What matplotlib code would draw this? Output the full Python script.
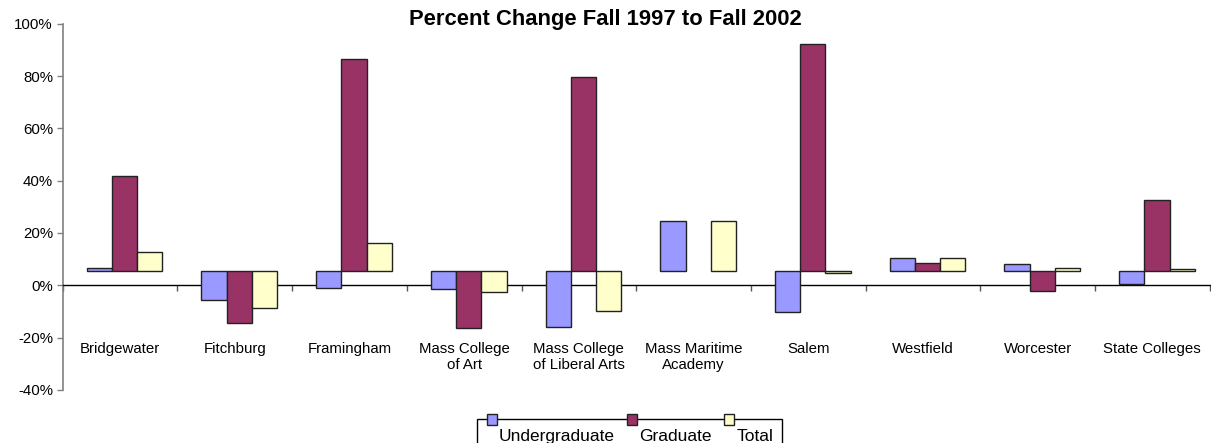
import numpy as np
import matplotlib
matplotlib.use("Agg")
import matplotlib.pyplot as plt
from matplotlib.patches import Rectangle
from matplotlib.ticker import FuncFormatter

plt.rcParams['font.family'] = ['Liberation Sans', 'DejaVu Sans']

# values (percent); bars start at a raised baseline
categories = ['Bridgewater', 'Fitchburg', 'Framingham', 'Mass College\nof Art',
              'Mass College\nof Liberal Arts', 'Mass Maritime\nAcademy', 'Salem',
              'Westfield', 'Worcester', 'State Colleges']
undergrad = [6.6, -5.5, -0.9, -1.3, -15.9, 24.6, -10.1, 10.6, 8.3, 0.4]
graduate = [41.8, -14.4, 86.5, -16.4, 79.6, np.nan, 92.4, 8.6, -2.1, 32.6]
total = [12.6, -8.6, 16.3, -2.6, -9.8, 24.6, 4.6, 10.4, 6.7, 6.1]
bar_base = 5.6

series = [('Undergraduate', undergrad, '#9999FF'),
          ('Graduate', graduate, '#993366'),
          ('Total', total, '#FFFFCC')]

W, H = 1211, 443
fig = plt.figure(figsize=(W / 100, H / 100), dpi=100)
ax = fig.add_axes([62.7 / W, 1 - 389.9 / H, (1209.7 - 62.7) / W, (389.9 - 23.7) / H])

x = np.arange(len(categories)) + 0.5
bw = 0.22
shift = 0.04  # bar groups sit slightly right of the category centre
for k, (name, vals, col) in enumerate(series):
    v = np.array(vals, dtype=float)
    ax.bar(x + shift + (k - 1) * bw, v - bar_base, bottom=bar_base, width=bw,
           color=col, edgecolor='#222222', linewidth=1.0, zorder=3)

ax.set_xlim(0, len(categories))
ax.set_ylim(-40, 100)
ax.set_yticks(np.arange(-40, 101, 20))
ax.yaxis.set_major_formatter(FuncFormatter(lambda v, p: f'{v:.0f}%'))
ax.tick_params(axis='y', direction='out', length=4, width=1, color='#808080',
               labelsize=10.8, pad=3)

# category axis crosses at 0
for s in ['top', 'right']:
    ax.spines[s].set_visible(False)
ax.spines['left'].set_color('#808080')
ax.spines['left'].set_linewidth(1.2)
ax.spines['bottom'].set_position(('data', 0))
ax.spines['bottom'].set_color('black')
ax.spines['bottom'].set_linewidth(1.0)
ax.set_xticks(np.arange(0, len(categories) + 1))
ax.set_xticklabels([])
ax.set_xticks(x, minor=True)
ax.set_xticklabels(categories, minor=True)
ax.tick_params(axis='x', which='major', direction='out', length=4, width=1, color='#555555')
ax.tick_params(axis='x', which='minor', length=0, pad=40.5, labelsize=10.8)

fig.text(0.4995, 1 - 20 / H, 'Percent Change Fall 1997 to Fall 2002',
         ha='center', va='center', fontsize=15.8, fontweight='bold')

# legend drawn by hand: markers sit on the top border, text below
fig.add_artist(Rectangle((476.7 / W, -0.05), (781.7 - 476.7) / W, 0.05 + 1 - 419.3 / H,
                         transform=fig.transFigure, facecolor='white',
                         edgecolor='black', linewidth=1.0))
mark_x = [492.3, 631.7, 729.3]
text_x = [498.3, 639.3, 736.7]
for (name, vals, col), mx, tx in zip(series, mark_x, text_x):
    fig.add_artist(Rectangle(((mx - 5) / W, 1 - 424.5 / H), 10 / W, 10.5 / H,
                             transform=fig.transFigure, facecolor=col,
                             edgecolor='#222222', linewidth=1.0))
    fig.text(tx / W, 1 - 440.7 / H, name, ha='left', va='baseline', fontsize=12.5)

fig.savefig('out.png', dpi=100)
